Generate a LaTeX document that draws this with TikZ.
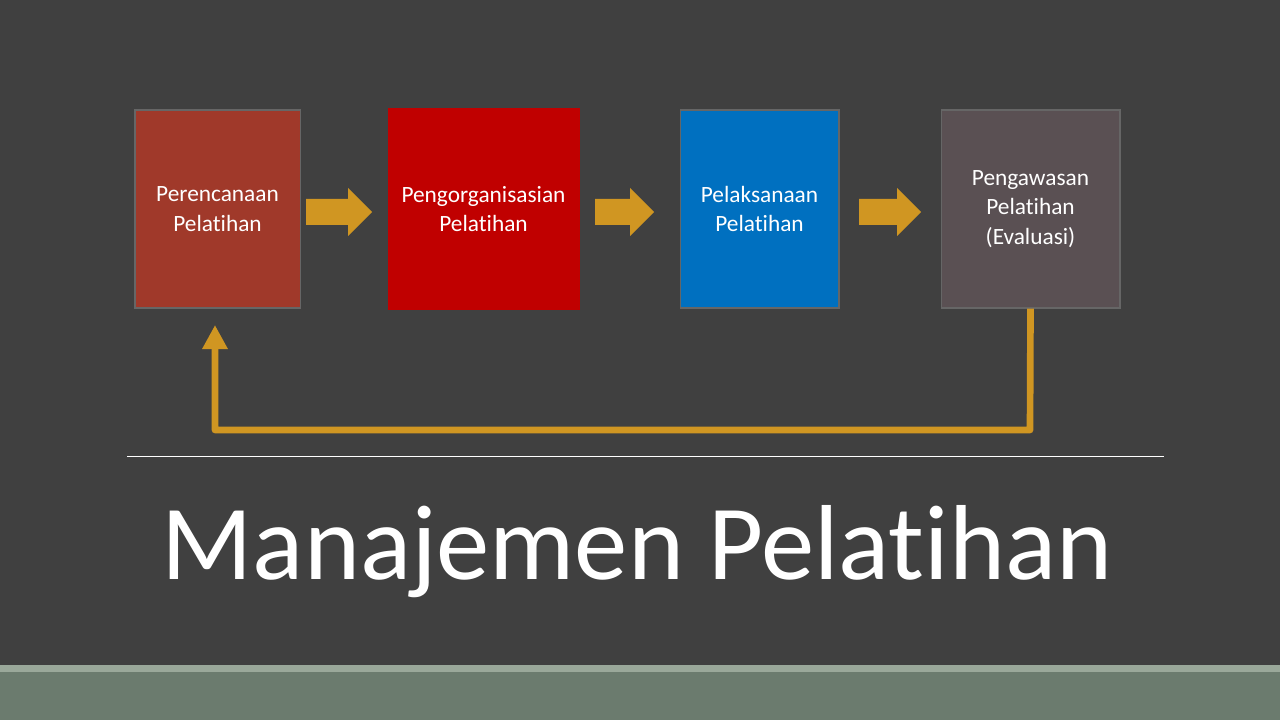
\documentclass[tikz,border=0pt]{standalone}
\usepackage{fontspec}
\setmainfont[Ligatures=NoCommon]{Carlito}
\usetikzlibrary{arrows.meta}
\definecolor{bg}{HTML}{404040}
\definecolor{gold}{HTML}{D09622}
\definecolor{c1}{HTML}{A0392A}
\definecolor{c2}{HTML}{C00000}
\definecolor{c3}{HTML}{0070C0}
\definecolor{c4}{HTML}{5A5053}
\definecolor{band}{HTML}{6B7B6E}
\definecolor{bandtop}{HTML}{9AA89A}
\tikzset{box/.style={draw=gray!80!black,line width=1pt,text=white,font=\fontsize{17.5}{22}\selectfont,align=center,inner sep=0pt},
blockarrow/.style={fill=gold,draw=none}}
\newcommand{\blockarr}[2]{% x start, x end
  \fill[blockarrow] (#1,199) -- ({#2-24},199) -- ({#2-24},188) -- (#2,212) -- ({#2-24},236) -- ({#2-24},225) -- (#1,225) -- cycle;}
\begin{document}
\begin{tikzpicture}[x=0.75pt,y=-0.75pt]
\fill[bg] (0,0) rectangle (1280,720);
\useasboundingbox (0,0) rectangle (1280,720);
\fill[band] (0,665) rectangle (1280,720);
\fill[bandtop] (0,665) rectangle (1280,672);
\node[box,fill=c1,minimum width=124pt,minimum height=148.5pt] (b1) at (217.5,209) {Perencanaan\\Pelatihan};
\node[box,fill=c2,draw=c2,minimum width=143pt,minimum height=150pt] (b2) at (483.5,209) {Pengorganisasian\\Pelatihan};
\node[box,fill=c3,minimum width=119pt,minimum height=148.5pt] (b3) at (759.5,209) {Pelaksanaan\\Pelatihan};
\node[box,fill=c4,minimum width=134pt,minimum height=148.5pt] (b4) at (1030.5,209) {Pengawasan\\Pelatihan\\(Evaluasi)};
\blockarr{306}{372}
\blockarr{595}{654}
\blockarr{859}{921}
\coordinate (c1) at (1030,430);
\coordinate (c2) at (215,430);
\coordinate (tip) at (215,325);
\draw[gold,line width=5pt,line join=round,-{Triangle[length=18pt,width=18pt]}] (b4.south) -- (c1) -- (c2) -- (tip);
\draw[white,line width=0.75pt] (127,456) -- (1164,456);
\node[text=white,font=\fontsize{80}{88}\selectfont] (title) at (637,552) {Manajemen Pelatihan};
\end{tikzpicture}
\end{document}
